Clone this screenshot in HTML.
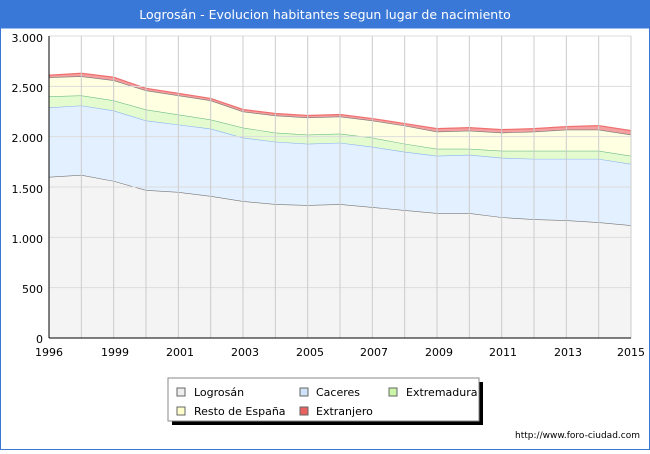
<!DOCTYPE html>
<html><head><meta charset="utf-8"><style>
body{margin:0;width:650px;height:450px;background:#fff;font-family:"DejaVu Sans","Liberation Sans",sans-serif;overflow:hidden}
</style></head><body>
<svg id="s" width="650" height="450" xmlns="http://www.w3.org/2000/svg" font-family="DejaVu Sans, Liberation Sans, sans-serif">
<rect x="0" y="0" width="650" height="450" fill="#fff"/>
<rect x="0" y="0" width="650" height="28" fill="#3a78d8"/>
<text x="325" y="19" fill="#fff" font-size="12.5" text-anchor="middle">Logrosán - Evolucion habitantes segun lugar de nacimiento</text>
<rect x="0.5" y="28" width="649" height="421.5" fill="none" stroke="#3a78d8"/>
<g id="areas"></g>
<g id="grid"></g>
<line x1="49" y1="36" x2="49" y2="338" stroke="#000"/>
<line x1="49" y1="338" x2="631" y2="338" stroke="#000"/>
<g font-size="11" fill="#000" text-anchor="end">
<text x="43" y="42">3.000</text><text x="43" y="92">2.500</text><text x="43" y="142">2.000</text>
<text x="43" y="193">1.500</text><text x="43" y="243">1.000</text><text x="43" y="293">500</text><text x="43" y="343">0</text>
</g>
<g font-size="11" fill="#000" text-anchor="middle">
<text x="49" y="356">1996</text><text x="115" y="356">1999</text><text x="180" y="356">2001</text><text x="245" y="356">2003</text>
<text x="310" y="356">2005</text><text x="374" y="356">2007</text><text x="439" y="356">2009</text><text x="503" y="356">2011</text>
<text x="568" y="356">2013</text><text x="631" y="356">2015</text>
</g>
<rect x="172" y="382" width="311" height="43" fill="#000"/>
<rect x="168" y="378" width="311" height="43" fill="#fff" stroke="#888"/>
<g font-size="11" fill="#000">
<rect x="177" y="388" width="8" height="8" fill="#eee" stroke="#666"/><text x="194" y="396">Logrosán</text>
<rect x="300" y="388" width="8" height="8" fill="#cfe4fb" stroke="#666"/><text x="316" y="396">Caceres</text>
<rect x="389" y="388" width="8" height="8" fill="#ccf5a8" stroke="#666"/><text x="406" y="396">Extremadura</text>
<rect x="177" y="407" width="8" height="8" fill="#ffffcc" stroke="#666"/><text x="194" y="415">Resto de España</text>
<rect x="300" y="407" width="8" height="8" fill="#e86060" stroke="#666"/><text x="316" y="415">Extranjero</text>
</g>
<text x="640" y="438" font-size="9" text-anchor="end" fill="#000">http://www.foro-ciudad.com</text>
</svg>
<script>
var NS="http://www.w3.org/2000/svg";
function el(p,t,a){var e=document.createElementNS(NS,t);for(var k in a)e.setAttribute(k,a[k]);p.appendChild(e);return e;}
var g=document.getElementById('grid'),ar=document.getElementById('areas');
for(var i=1;i<=6;i++){var y=338-i*50.33;el(g,'line',{x1:49,x2:631,y1:y,y2:y,stroke:'#ddd'});}
for(var i=1;i<=18;i++){var x=49+i*582/18;el(g,'line',{x1:x,x2:x,y1:36,y2:338,stroke:'#ccc'});}
var L=[1600,1620,1560,1470,1450,1410,1360,1330,1320,1330,1300,1270,1240,1240,1200,1180,1170,1150,1120];
var C=[2290,2310,2260,2160,2120,2080,1990,1950,1930,1940,1900,1850,1810,1820,1790,1780,1780,1780,1730];
var E=[2400,2410,2360,2270,2220,2170,2090,2040,2020,2030,1990,1930,1880,1880,1860,1860,1860,1860,1810];
var R=[2590,2600,2560,2460,2410,2360,2250,2210,2190,2200,2160,2110,2050,2060,2040,2050,2070,2070,2020];
var X=[2610,2630,2590,2480,2430,2380,2270,2230,2210,2220,2180,2130,2080,2090,2070,2080,2100,2110,2060];
function px(i){return 49+i*582/18;} function py(v){return 338-v*302/3000;}
var Z=L.map(function(){return 0;});
var layers=[[Z,L,'#f4f4f4','#777'],[L,C,'#e2f0ff','#8ab4ee'],[C,E,'#e4fbd0','#6fbf8a'],[E,R,'#ffffe2','#777'],[R,X,'#f4a0a0','#f07070']];
layers.forEach(function(l){var d='M';for(var i=0;i<19;i++)d+=px(i)+','+py(l[1][i])+' L';for(var i=18;i>=0;i--)d+=px(i)+','+py(l[0][i])+(i?' L':' Z');
el(ar,'path',{d:d,fill:l[2],stroke:'none'});
var s='M';for(var i=0;i<19;i++)s+=px(i)+','+py(l[1][i])+(i<18?' L':'');el(ar,'path',{d:s,fill:'none',stroke:l[3],'stroke-width':1.2});});
</script>
</body></html>
